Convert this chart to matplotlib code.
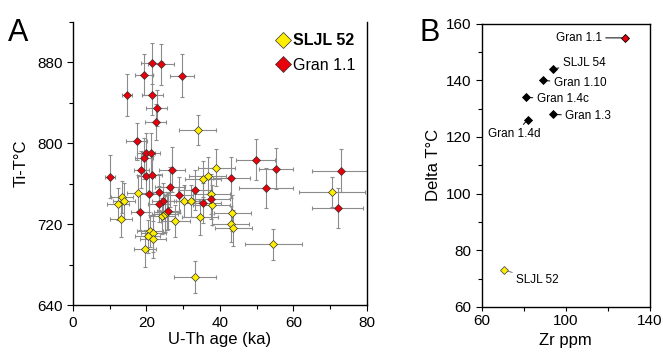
import matplotlib
matplotlib.use("Agg")
import matplotlib.pyplot as plt
from matplotlib.ticker import MultipleLocator

plt.rcParams['font.family'] = ['Liberation Sans', 'DejaVu Sans']

# ---- Panel A data: (U-Th age ka, Ti-T degC, age err, T err)
gran_age = [21.4, 24.0, 19.3, 29.7, 14.7, 21.6, 22.8, 22.5, 17.3, 19.9, 21.2, 19.3,
            18.6, 26.9, 19.8, 21.6, 10.1, 23.3, 20.8, 26.4, 28.8, 24.4, 23.5, 18.3,
            26.0, 33.1, 35.3, 37.6, 49.7, 55.3, 52.6, 73.0, 72.0, 43.1]
gran_T = [879, 878, 868, 867, 848, 848, 835, 821, 802, 790, 790, 785,
          774, 774, 768, 769, 767, 752, 750, 757, 749, 743, 740, 732,
          733, 754, 741, 745, 784, 775, 756, 773, 736, 766]
gran_xerr = [3.0, 3.6, 2.5, 3.2, 1.4, 2.9, 2.8, 2.8, 2.8, 2.5, 2.5, 2.5,
             2.0, 3.5, 2.5, 2.5, 1.4, 3.0, 3.0, 4.0, 4.0, 3.0, 3.0, 2.5,
             3.0, 4.5, 5.0, 5.0, 5.2, 4.6, 7.3, 8.0, 7.0, 5.0]
gran_yerr = [20, 20, 20, 21, 21, 20, 18, 18, 18, 20, 20, 20,
             18, 22, 18, 18, 21, 18, 18, 20, 18, 18, 18, 18,
             18, 20, 20, 20, 20, 20, 20, 21, 20, 20]

sljl_age = [33.9, 17.8, 13.4, 14.0, 12.2, 13.0, 24.3, 25.1, 27.9, 30.3, 32.0, 34.6,
            20.9, 21.9, 20.3, 21.8, 19.5, 33.1, 35.4, 36.7, 39.0, 37.6, 37.8, 43.4,
            42.9, 43.6, 54.5, 70.5, 25.5]
sljl_T = [813, 751, 747, 743, 740, 725, 728, 730, 723, 743, 743, 727,
          713, 711, 708, 705, 696, 668, 765, 768, 776, 750, 739, 731,
          720, 716, 700, 752, 732]
sljl_xerr = [5.0, 3.0, 3.0, 3.0, 3.0, 3.0, 3.5, 3.5, 4.0, 4.0, 4.0, 5.0,
             3.5, 3.5, 3.5, 3.5, 3.0, 5.7, 5.0, 5.0, 5.0, 5.0, 5.0, 5.0,
             5.0, 5.0, 7.7, 9.0, 3.5]
sljl_yerr = [15, 18, 16, 18, 16, 18, 18, 18, 16, 16, 16, 18,
             16, 18, 16, 18, 18, 16, 18, 18, 18, 20, 20, 18,
             18, 18, 15, 15, 18]

# ---- Panel B data
b_names = ["Gran 1.1", "SLJL 54", "Gran 1.10", "Gran 1.4c", "Gran 1.3", "Gran 1.4d", "SLJL 52"]
b_zr = [128, 94, 89, 81, 94, 81.7, 70.7]
b_delta = [155, 144, 140, 134, 128, 126, 73]
b_colors = ["#e8000b", "black", "black", "black", "black", "black", "#ffee00"]
b_label_pos = [(117, 155), (98.6, 146.2), (94.3, 138.9), (86.2, 133.3), (99.8, 127.3), (75.3, 121), (76.4, 69.5)]
b_label_ha = ["right", "left", "left", "left", "left", "center", "left"]
b_xticks = [60, 100, 140]
b_xminor = [80, 120]

fig = plt.figure(figsize=(6.63, 3.54), dpi=100)

# ---------- Panel A
axA = fig.add_axes([0.110, 0.138, 0.4435, 0.800])
ecol = '#8c8c8c'
axA.errorbar(gran_age, gran_T, xerr=gran_xerr, yerr=gran_yerr, fmt='none',
             ecolor=ecol, elinewidth=0.8, capsize=1.6, capthick=0.8, zorder=1)
axA.errorbar(sljl_age, sljl_T, xerr=sljl_xerr, yerr=sljl_yerr, fmt='none',
             ecolor=ecol, elinewidth=0.8, capsize=1.6, capthick=0.8, zorder=1)
axA.plot(sljl_age, sljl_T, 'D', ms=3.9, mfc='#ffee00', mec='#333333', mew=0.5,
         ls='none', zorder=3, label='SLJL 52')
axA.plot(gran_age, gran_T, 'D', ms=3.9, mfc='#e8000b', mec='#333333', mew=0.5,
         ls='none', zorder=3, label='Gran 1.1')
axA.set_xlim(0, 80)
axA.set_ylim(640, 920)
axA.xaxis.set_major_locator(MultipleLocator(20))
axA.xaxis.set_minor_locator(MultipleLocator(10))
axA.yaxis.set_major_locator(MultipleLocator(80))
axA.yaxis.set_minor_locator(MultipleLocator(40))
axA.spines['top'].set_visible(False)
for s in ['left', 'bottom', 'right']:
    axA.spines[s].set_linewidth(1.0)
axA.tick_params(which='both', direction='out', labelsize=11, width=0.8)
axA.tick_params(which='major', length=4)
axA.tick_params(which='minor', length=3)
axA.set_xlabel('U-Th age (ka)', fontsize=12, labelpad=2)
axA.set_ylabel('Ti-T°C', fontsize=12, labelpad=6)
leg = axA.legend(loc='upper right', bbox_to_anchor=(1.0, 1.0), frameon=False,
                 fontsize=11.5, handletextpad=0.05, markerscale=2.1,
                 labelspacing=0.6, borderaxespad=0.3, handlelength=1.2)
leg.get_texts()[0].set_fontweight('bold')
fig.text(0.012, 0.885, 'A', fontsize=22)

# ---------- Panel B
axB = fig.add_axes([0.727, 0.133, 0.253, 0.800])
for i in range(len(b_names)):
    tx, ty = b_label_pos[i]
    lc = '#777777' if b_names[i] == 'SLJL 52' else 'black'
    axB.annotate(b_names[i], xy=(b_zr[i], b_delta[i]), xytext=(tx, ty),
                 fontsize=8.5, ha=b_label_ha[i], va='center',
                 arrowprops=dict(arrowstyle='-', color=lc, lw=0.7,
                                 shrinkA=1, shrinkB=2), zorder=2)
    ms = 4.2 if b_names[i] == 'Gran 1.1' else 3.6
    axB.plot([b_zr[i]], [b_delta[i]], 'D', ms=ms, mfc=b_colors[i],
             mec='black' if b_colors[i] != '#ffee00' else '#555555', mew=0.6, zorder=4)
axB.set_xlim(60, 140)
axB.set_ylim(60, 160)
axB.set_xticks(b_xticks)
axB.set_xticks(b_xminor, minor=True)
axB.yaxis.set_major_locator(MultipleLocator(20))
axB.yaxis.set_minor_locator(MultipleLocator(10))
for s in axB.spines.values():
    s.set_linewidth(1.0)
axB.tick_params(which='both', direction='out', labelsize=11, width=0.8)
axB.tick_params(axis='x', which='major', length=3, pad=2)
axB.tick_params(axis='y', which='major', length=4)
axB.tick_params(which='minor', length=3)
axB.set_xlabel('Zr ppm', fontsize=12, labelpad=4)
axB.set_ylabel('Delta T°C', fontsize=12, labelpad=4)
fig.text(0.632, 0.885, 'B', fontsize=22)

fig.savefig('out.png', dpi=100)
